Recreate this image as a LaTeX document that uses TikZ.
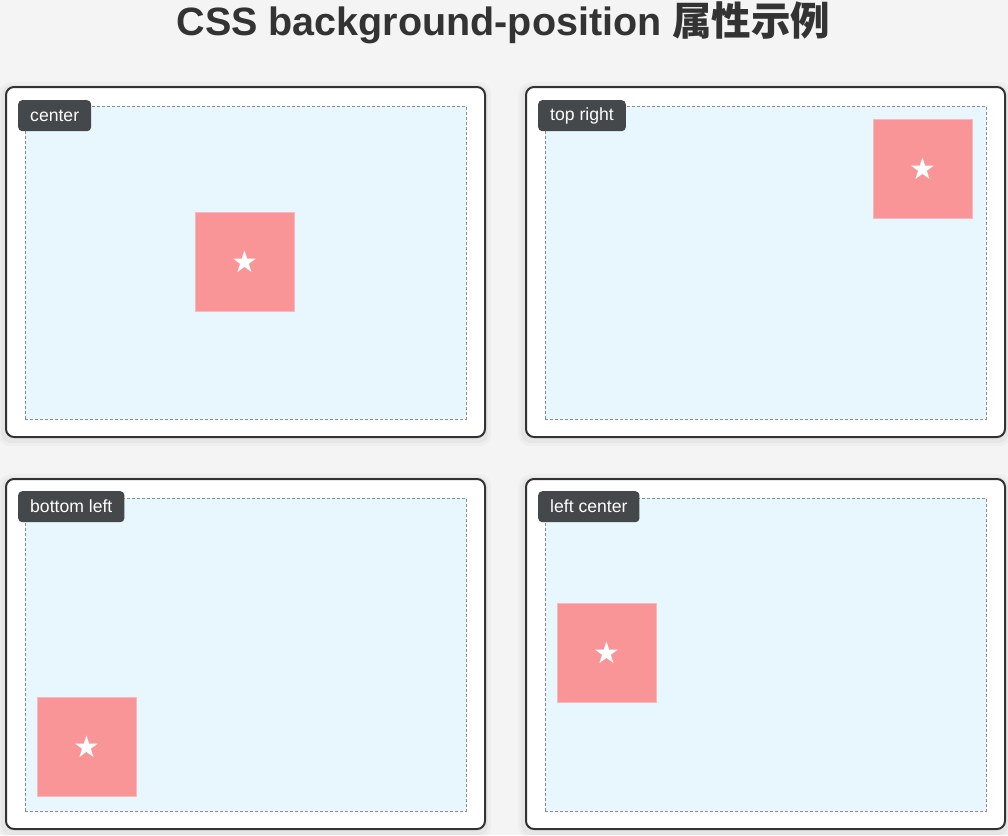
\documentclass[tikz,border=0pt]{standalone}
\usepackage{fontspec}
\setmainfont{Liberation Sans}
\newfontfamily\cjkfont{Noto Sans CJK SC}
\newfontfamily\symfont{DejaVu Sans}
\definecolor{bgc}{HTML}{F4F4F4}
\definecolor{bordc}{HTML}{333333}
\definecolor{innerc}{HTML}{E8F7FE}
\definecolor{dashc}{HTML}{8A8E92}
\definecolor{labc}{HTML}{45484B}
\definecolor{pinkc}{HTML}{F99497}
\definecolor{pinkedge}{HTML}{F7B9BC}
\definecolor{titlec}{HTML}{333333}
\tikzset{
  panel/.style={draw=bordc, line width=2pt, fill=white, rounded corners=8pt, minimum width=479pt, minimum height=350pt, anchor=north west, inner sep=0pt},
  shade1/.style={fill=black, opacity=0.025, rounded corners=12pt, minimum width=493pt, minimum height=364pt, anchor=north west, inner sep=0pt},
  shade2/.style={fill=black, opacity=0.03, rounded corners=10pt, minimum width=487pt, minimum height=358pt, anchor=north west, inner sep=0pt},
  innerbox/.style={draw=dashc, line width=0.8pt, dash pattern=on 3pt off 2pt, fill=innerc, minimum width=441pt, minimum height=313pt, anchor=north west, inner sep=0pt},
  lab/.style={fill=labc, text=white, rounded corners=4pt, minimum height=31pt, inner xsep=12pt, inner ysep=0pt, anchor=north west, font=\fontsize{17.6}{20}\selectfont},
  sq/.style={fill=pinkc, draw=pinkedge, line width=1pt, minimum width=99pt, minimum height=99pt, inner sep=0pt, text=white, font=\symfont\fontsize{30}{32}\selectfont},
}
\begin{document}
\begin{tikzpicture}[x=1pt,y=-1pt]
\fill[bgc] (0,0) rectangle (1008,835);
\useasboundingbox (0,0) rectangle (1008,835);
\node[font=\bfseries\fontsize{39.5}{44}\selectfont, text=titlec] (title) at (503.5,23) {CSS background-position {\cjkfont\bfseries 属性示例}};
% shadows
\node[shade1] (s1) at (-2,82) {};
\node[shade1] (s2) at (518,82) {};
\node[shade1] (s3) at (-2,474) {};
\node[shade1] (s4) at (518,474) {};
\node[shade2] (t1) at (1,85) {};
\node[shade2] (t2) at (521,85) {};
\node[shade2] (t3) at (1,477) {};
\node[shade2] (t4) at (521,477) {};
% panels
\node[panel] (p1) at (5,86) {};
\node[panel] (p2) at (525,86) {};
\node[panel] (p3) at (5,478) {};
\node[panel] (p4) at (525,478) {};
% inner areas
\node[innerbox] (i1) at (24.5,105.5) {};
\node[innerbox] (i2) at (544.5,105.5) {};
\node[innerbox] (i3) at (24.5,497.5) {};
\node[innerbox] (i4) at (544.5,497.5) {};
% squares
\node[sq] (q1) at (245,262) {★};
\node[sq] (q2) at (922.5,168.5) {★};
\node[sq] (q3) at (87,747) {★};
\node[sq] (q4) at (607,653) {★};
% labels
\node[lab] (l1) at (18,100) {center};
\node[lab] (l2) at (538,100) {top right};
\node[lab] (l3) at (18,491) {bottom left};
\node[lab] (l4) at (538,491) {left center};
\end{tikzpicture}
\end{document}
